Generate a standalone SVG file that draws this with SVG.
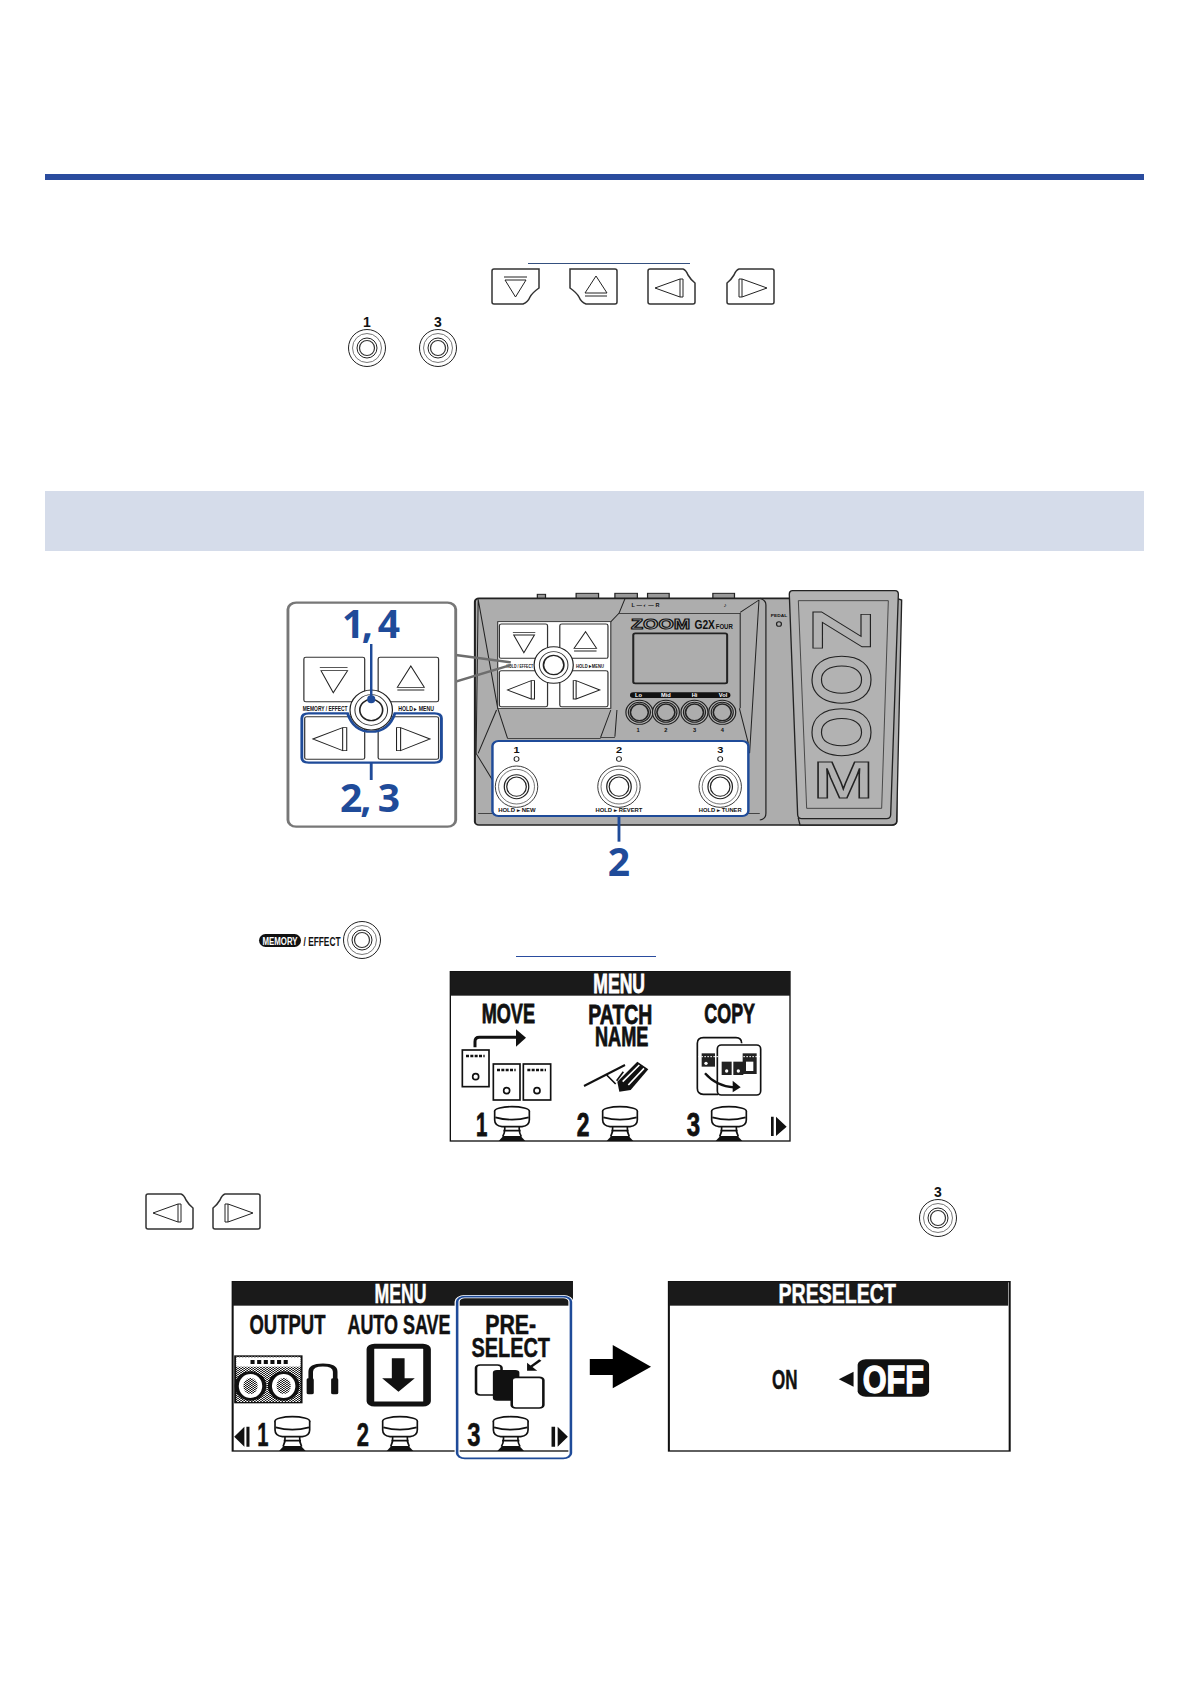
<svg xmlns="http://www.w3.org/2000/svg" width="1191" height="1684" viewBox="0 0 1191 1684">
<style>
.ln{fill:none;stroke:#222}
.btn{fill:#fff;stroke:#333;stroke-width:1.5}
.tr{fill:#fff;stroke:#222;stroke-width:1}
.blue{fill:none;stroke:#1f4b99}
.num{font-family:"Noto Sans","Open Sans",sans-serif;font-weight:700;fill:#1f4b99}
.lcd{font-family:"Liberation Sans Narrow","Liberation Sans",sans-serif;font-weight:700;fill:#111}
.sm{font-family:"Liberation Sans",sans-serif;font-weight:700;fill:#111}
</style>
<defs>
<g id="bd"><path class="btn" d="M2,0H47V19Q40,24 38,28Q36,33 31,35H2Q0,35 0,33V2Q0,0 2,0Z"/><path class="tr" d="M12,8H35M13,11H34L23.5,28Z"/></g>
<g id="bu"><path class="btn" d="M45,0H0V19Q7,24 9,28Q11,33 16,35H45Q47,35 47,33V2Q47,0 45,0Z"/><path class="tr" d="M15,24H37L26,7ZM15,27H37"/></g>
<g id="bl"><path class="btn" d="M2,0H35Q38,1 40,6Q43,11 47,14V33Q47,35 45,35H2Q0,35 0,33V2Q0,0 2,0Z"/><path class="tr" d="M7,19L32,10V28ZM32,10H35V28H32"/></g>
<g id="br"><path class="btn" d="M45,0H12Q9,1 7,6Q4,11 0,14V33Q0,35 2,35H45Q47,35 47,33V2Q47,0 45,0Z"/><path class="tr" d="M40,19L15,10V28ZM15,10H12V28H15"/></g>
<g id="sw"><circle r="18.5" fill="#fff" stroke="#222" stroke-width="1"/><circle r="14.5" fill="none" stroke="#555" stroke-width=".8"/><circle r="10" fill="none" stroke="#222" stroke-width="1"/><circle r="7.5" fill="none" stroke="#333" stroke-width="1.2"/></g>
<g id="ped"><ellipse cx="0" cy="453" rx="52" ry="13" fill="#fff" stroke="#111" stroke-width="5"/><path d="M-52,453V480Q-52,497 -30,500H30Q52,497 52,480V453" fill="#fff" stroke="#111" stroke-width="5"/><path d="M-50,472Q0,486 50,472" fill="none" stroke="#111" stroke-width="5"/><path d="M-22,500Q-20,515 -28,530M22,500Q20,515 28,530M-26,512H26" stroke="#111" stroke-width="5" fill="none"/><path d="M-40,543L-26,528H26L40,543Z" fill="#111"/></g>
<g id="dev-sw"><ellipse rx="52" ry="62" fill="#fff" stroke="#222" stroke-width="2.4"/><ellipse rx="44" ry="52" fill="none" stroke="#444" stroke-width="2"/><ellipse rx="30" ry="36" fill="none" stroke="#222" stroke-width="3"/><ellipse rx="24" ry="29" fill="none" stroke="#222" stroke-width="3"/></g>
<g id="dev-knob"><ellipse rx="33" ry="36" fill="#b8b8b8" stroke="#222" stroke-width="3"/><ellipse rx="27" ry="30" fill="none" stroke="#222" stroke-width="3"/><ellipse rx="22" ry="25" fill="#adadad" stroke="#222" stroke-width="4"/></g>
<pattern id="grille" width="6" height="6" patternUnits="userSpaceOnUse"><rect width="6" height="6" fill="#fff"/><rect width="3" height="3" fill="#111"/><rect x="3" y="3" width="3" height="3" fill="#111"/></pattern>
</defs>

<rect id="top-rule" x="45" y="174" width="1099" height="6" fill="#2a4c9e"/>
<rect id="heading-band" x="45" y="491" width="1099" height="60" fill="#d5dcea"/>

<g id="top-icons">
<line x1="528" y1="263.5" x2="690" y2="263.5" stroke="#34507f" stroke-width="1"/>
<use href="#bd" x="492" y="269"/><use href="#bu" x="570" y="269"/><use href="#bl" x="648" y="269"/><use href="#br" x="727" y="269"/>
<text class="sm" x="367" y="327" font-size="14" text-anchor="middle">1</text><use href="#sw" x="367" y="348"/>
<text class="sm" x="438" y="327" font-size="14" text-anchor="middle">3</text><use href="#sw" x="438" y="348"/>
</g>

<g id="device" transform="translate(270,580) scale(0.40816,0.33333)">
<g fill="#999" stroke="#222" stroke-width="3"><rect x="655" y="43" width="20" height="14"/><rect x="750" y="40" width="55" height="17"/><rect x="845" y="40" width="55" height="17"/><rect x="925" y="40" width="53" height="17"/><rect x="1085" y="40" width="53" height="17"/></g>
<rect x="502" y="55" width="1033" height="680" rx="10" fill="#adadad" stroke="#222" stroke-width="5"/>
<path class="ln" stroke-width="2.5" d="M510,58L558,385M510,58L505,520M558,385L582,475M555,390L510,520M835,390L810,472H845M855,100H1152V385M855,100L835,125M1198,60L1152,97M1198,60L1175,520M1150,385L1172,490M850,390L845,470M870,55L855,100M582,475H810M505,520L545,600M510,700H1200"/>
<path class="ln" stroke-width="3" d="M1200,55Q1215,60 1215,75V700Q1215,718 1200,720"/>
<rect x="558" y="125" width="277" height="260" fill="#fff" stroke="#222" stroke-width="2.5"/>
<g class="btn" style="stroke-width:3"><rect x="562" y="132" width="118" height="103" rx="5"/><rect x="710" y="132" width="118" height="103" rx="5"/><rect x="562" y="272" width="118" height="108" rx="5"/><rect x="710" y="272" width="118" height="108" rx="5"/></g>
<path class="tr" style="stroke-width:2.6" d="M595,157H650M597,165H648L622,218ZM773,155L745,205H800ZM745,213H800M582,330L640,302V357ZM640,302H648V357H640M808,330L750,302V357ZM750,302H743V357H750"/>
<text class="sm" x="612" y="264" font-size="17" text-anchor="middle" textLength="65" lengthAdjust="spacingAndGlyphs">HOLD / EFFECT</text>
<text class="sm" x="784" y="264" font-size="17" text-anchor="middle" textLength="68" lengthAdjust="spacingAndGlyphs">HOLD ▸ MENU</text>
<ellipse cx="695" cy="255" rx="48" ry="55" fill="#fff" stroke="#222" stroke-width="3"/>
<ellipse cx="695" cy="255" rx="35" ry="40" fill="none" stroke="#333" stroke-width="2.5"/>
<ellipse cx="695" cy="255" rx="25" ry="29" fill="#fff" stroke="#222" stroke-width="4"/>
<g id="wedge" stroke="#6d6d6d" stroke-width="7" fill="none"><path d="M455,225L590,247M455,305L590,255"/></g>
<text class="sm" x="920" y="82" font-size="14" text-anchor="middle" textLength="68" lengthAdjust="spacingAndGlyphs">L — ◐ — R</text>
<text class="sm" x="1115" y="82" font-size="16" text-anchor="middle">♪</text>
<text x="957" y="147" font-family="Liberation Sans,sans-serif" font-weight="700" font-size="42" text-anchor="middle" textLength="145" lengthAdjust="spacingAndGlyphs" fill="#adadad" stroke="#111" stroke-width="3">ZOOM</text>
<text class="sm" x="1065" y="147" font-size="38" text-anchor="middle" textLength="50" lengthAdjust="spacingAndGlyphs">G2X</text>
<text class="sm" x="1113" y="147" font-size="24" text-anchor="middle" textLength="42" lengthAdjust="spacingAndGlyphs">FOUR</text>
<rect x="890" y="160" width="230" height="150" rx="5" fill="#adadad" stroke="#222" stroke-width="5"/>
<rect x="882" y="337" width="246" height="17" rx="8" fill="#111"/>
<g class="sm" font-size="14" text-anchor="middle" style="fill:#fff"><text x="903" y="350">Lo</text><text x="970" y="350">Mid</text><text x="1040" y="350">Hi</text><text x="1110" y="350">Vol</text></g>
<use href="#dev-knob" x="905" y="397"/><use href="#dev-knob" x="970" y="397"/><use href="#dev-knob" x="1040" y="397"/><use href="#dev-knob" x="1108" y="397"/>
<g class="sm" font-size="14" text-anchor="middle"><text x="902" y="455">1</text><text x="970" y="455">2</text><text x="1040" y="455">3</text><text x="1108" y="455">4</text></g>
<text class="sm" x="1247" y="111" font-size="12" text-anchor="middle" textLength="40" lengthAdjust="spacingAndGlyphs">PEDAL</text>
<ellipse cx="1247" cy="132" rx="6" ry="7" fill="none" stroke="#222" stroke-width="3"/>
<rect x="545" y="483" width="627" height="225" rx="15" fill="#fff"/>
<g class="sm" font-size="27" text-anchor="middle"><text x="604" y="518" textLength="15" lengthAdjust="spacingAndGlyphs">1</text><text x="855" y="518" textLength="15" lengthAdjust="spacingAndGlyphs">2</text><text x="1103" y="518" textLength="15" lengthAdjust="spacingAndGlyphs">3</text></g>
<g fill="none" stroke="#222" stroke-width="2.5"><ellipse cx="604" cy="537" rx="6" ry="7"/><ellipse cx="855" cy="537" rx="6" ry="7"/><ellipse cx="1103" cy="537" rx="6" ry="7"/></g>
<use href="#dev-sw" x="604" y="620"/><use href="#dev-sw" x="855" y="620"/><use href="#dev-sw" x="1103" y="620"/>
<g class="sm" font-size="14" text-anchor="middle"><text x="605" y="697" textLength="92" lengthAdjust="spacingAndGlyphs">HOLD ▸ NEW</text><text x="855" y="697" textLength="115" lengthAdjust="spacingAndGlyphs">HOLD ▸ REVERT</text><text x="1103" y="697" textLength="105" lengthAdjust="spacingAndGlyphs">HOLD ▸ TUNER</text></g>
<rect class="blue" x="545" y="483" width="627" height="225" rx="15" stroke-width="6"/>
<line class="blue" x1="855" y1="708" x2="855" y2="785" stroke-width="7"/>
</g>

<g id="treadle" transform="translate(780,580) scale(0.33333)">
<path d="M350,55L365,60L350,725Q348,735 335,735H60L55,715Z" fill="#adadad" stroke="#222" stroke-width="4"/>
<path d="M38,32H345Q356,32 355,45L332,705Q331,716 320,716H65Q54,716 53,705L28,45Q27,32 38,32Z" fill="#b2b2b2" stroke="#222" stroke-width="4"/>
<path d="M55,62H325L305,685H80Z" fill="none" stroke="#333" stroke-width="2.5"/>
<g id="treadle-logo" font-family="Liberation Sans,sans-serif" font-weight="700" fill="#b2b2b2" stroke="#222" stroke-width="3.5" text-anchor="middle">
<text transform="translate(100,150) rotate(90)" font-size="251" textLength="120" lengthAdjust="spacingAndGlyphs">Z</text>
<text transform="translate(100,378) rotate(90)" font-size="251" textLength="315" lengthAdjust="spacingAndGlyphs">OO</text>
<text transform="translate(190,655)" font-size="155" textLength="180" lengthAdjust="spacingAndGlyphs">M</text>
</g>
</g>

<g id="callout" transform="translate(270,580) scale(0.40816,0.33333)">
<rect x="44" y="68" width="411" height="672" rx="20" fill="#fff" stroke="#777" stroke-width="7"/>
<g class="btn" style="stroke-width:3"><rect x="83" y="232" width="149" height="133" rx="5"/><rect x="265" y="232" width="148" height="133" rx="5"/><rect x="85" y="410" width="147" height="128" rx="5"/><rect x="265" y="410" width="148" height="128" rx="5"/></g>
<path class="tr" style="stroke-width:2.6" d="M122,262H190M125,272H190L155,338ZM345,258L312,322H378ZM312,330H378M105,477L178,443V512ZM178,443H188V512H178M392,477L320,443V512ZM320,443H310V512H320"/>
<text class="sm" x="135" y="392" font-size="19" text-anchor="middle" textLength="110" lengthAdjust="spacingAndGlyphs">MEMORY / EFFECT</text>
<text class="sm" x="358" y="392" font-size="19" text-anchor="middle" textLength="88" lengthAdjust="spacingAndGlyphs">HOLD ▸ MENU</text>
<path d="M95,400H190Q205,455 248,455Q291,455 306,400H403Q420,400 420,415V533Q420,548 403,548H95Q78,548 78,533V415Q78,400 95,400Z" class="blue" stroke-width="7"/>
<ellipse cx="248" cy="390" rx="52" ry="60" fill="#fff" stroke="#222" stroke-width="3"/>
<ellipse cx="248" cy="390" rx="40" ry="46" fill="none" stroke="#333" stroke-width="2.5"/>
<ellipse cx="248" cy="390" rx="28" ry="32" fill="#fff" stroke="#222" stroke-width="4"/>
<line class="blue" x1="248" y1="192" x2="248" y2="360" stroke-width="6"/>
<ellipse cx="248" cy="358" rx="10" ry="12" fill="#1f4b99"/>
<line class="blue" x1="248" y1="548" x2="248" y2="600" stroke-width="7"/>
</g>
<g id="step-numbers">
<text class="num" x="371" y="638" font-size="39" text-anchor="middle" textLength="58">1, 4</text>
<text class="num" x="370" y="812" font-size="39" text-anchor="middle" textLength="60">2, 3</text>
<text class="num" x="619" y="876" font-size="39" text-anchor="middle">2</text>
</g>

<g id="memory-button">
<rect x="259" y="934" width="42" height="13" rx="6.5" fill="#111"/>
<text class="lcd" x="280" y="945" font-size="11.5" text-anchor="middle" textLength="35" lengthAdjust="spacingAndGlyphs" style="fill:#fff">MEMORY</text>
<text class="lcd" x="322" y="946" font-size="12.5" text-anchor="middle" textLength="37" lengthAdjust="spacingAndGlyphs">/ EFFECT</text>
<use href="#sw" x="362" y="940"/>
</g>
<line id="link-rule" x1="516" y1="956.5" x2="656" y2="956.5" stroke="#2a4c9e" stroke-width="1"/>

<g id="menu-screen-1" transform="translate(440,960) scale(0.33333)">
<rect x="31" y="35" width="1019" height="508" fill="#fff" stroke="#111" stroke-width="4"/>
<rect x="31" y="35" width="1019" height="72" fill="#1a1a1a"/>
<g class="lcd" font-size="84" stroke="#111" stroke-width="2.5">
<text x="460" y="100" textLength="155" lengthAdjust="spacingAndGlyphs" style="fill:#fff" stroke="#fff">MENU</text>
<text x="125" y="190" textLength="160" lengthAdjust="spacingAndGlyphs">MOVE</text>
<text x="445" y="193" textLength="192" lengthAdjust="spacingAndGlyphs">PATCH</text>
<text x="465" y="259" textLength="160" lengthAdjust="spacingAndGlyphs">NAME</text>
<text x="793" y="190" textLength="152" lengthAdjust="spacingAndGlyphs">COPY</text>
</g>
<path d="M105,262V245Q105,232 118,232H232" fill="none" stroke="#111" stroke-width="9"/><path d="M228,208L258,233L228,260Z" fill="#111"/>
<g fill="#fff" stroke="#111" stroke-width="5"><rect x="67" y="270" width="80" height="110"/><rect x="160" y="312" width="80" height="108"/><rect x="250" y="312" width="82" height="108"/><circle cx="107" cy="350" r="9"/><circle cx="200" cy="392" r="9"/><circle cx="291" cy="392" r="9"/></g>
<path stroke="#111" stroke-width="8" stroke-dasharray="9 4" d="M78,288H134M171,330H227M262,330H318"/>
<path d="M432,378L555,315" stroke="#111" stroke-width="6"/><path d="M500,345L527,372M530,362L550,335" stroke="#111" stroke-width="5"/>
<path d="M532,365L592,305L625,328L572,390L538,395Z" fill="#111"/><path d="M548,365L598,315M565,375L612,325" stroke="#fff" stroke-width="5"/>
<path d="M905,250Q905,233 888,233H790Q772,233 772,250V385Q772,403 790,403H835" fill="none" stroke="#111" stroke-width="5"/>
<rect x="832" y="255" width="130" height="150" rx="12" fill="#fff" stroke="#111" stroke-width="5"/>
<g fill="#222"><rect x="785" y="280" width="40" height="40"/><rect x="845" y="305" width="30" height="40"/><rect x="880" y="305" width="30" height="40"/><rect x="908" y="280" width="42" height="62"/></g>
<rect x="918" y="305" width="22" height="28" fill="#fff"/>
<g fill="#fff"><circle cx="798" cy="310" r="5"/><circle cx="860" cy="333" r="5"/><circle cx="895" cy="333" r="5"/></g>
<path d="M775,290H960" stroke="#fff" stroke-width="3" stroke-dasharray="5 4"/>
<path d="M795,340Q830,380 882,382" fill="none" stroke="#111" stroke-width="7"/><path d="M878,362L902,382L878,397Z" fill="#111"/>
<g class="lcd" font-size="98" stroke="#111" stroke-width="2.5"><text x="108" y="528" textLength="34" lengthAdjust="spacingAndGlyphs">1</text><text x="410" y="528" textLength="38" lengthAdjust="spacingAndGlyphs">2</text><text x="740" y="528" textLength="40" lengthAdjust="spacingAndGlyphs">3</text></g>
<use href="#ped" x="216"/><use href="#ped" x="540"/><use href="#ped" x="867"/>
<path d="M993,470H1001V528H993ZM1008,470L1040,500L1008,528Z" fill="#111"/>
</g>

<g id="step-3-icons">
<use href="#bl" x="146" y="1194"/><use href="#br" x="213" y="1194"/>
<text class="sm" x="938" y="1197" font-size="14" text-anchor="middle">3</text><use href="#sw" x="938" y="1218"/>
</g>

<g id="menu-screen-2" transform="translate(225,1270) scale(0.5102,0.33333)">
<rect x="15" y="35" width="665" height="508" fill="#fff" stroke="#111" stroke-width="4"/>
<rect x="15" y="35" width="665" height="72" fill="#1a1a1a"/>
<g class="lcd" font-size="84" stroke="#111" stroke-width="1.5">
<text x="293" y="100" textLength="102" lengthAdjust="spacingAndGlyphs" style="fill:#fff" stroke="#fff">MENU</text>
<text x="48" y="193" textLength="149" lengthAdjust="spacingAndGlyphs">OUTPUT</text>
<text x="240" y="193" textLength="202" lengthAdjust="spacingAndGlyphs">AUTO SAVE</text>
<text x="510" y="193" textLength="100" lengthAdjust="spacingAndGlyphs">PRE-</text>
<text x="483" y="262" textLength="154" lengthAdjust="spacingAndGlyphs">SELECT</text>
</g>
<rect x="20" y="258" width="130" height="140" fill="url(#grille)" stroke="#111" stroke-width="4"/>
<rect x="22" y="262" width="126" height="28" fill="#fff"/><path d="M50,276H125" stroke="#111" stroke-width="12" stroke-dasharray="8 5"/>
<g fill="#fff" stroke="#111" stroke-width="8"><ellipse cx="50" cy="348" rx="27" ry="40"/><ellipse cx="115" cy="348" rx="27" ry="40"/></g>
<g fill="url(#grille)"><ellipse cx="50" cy="348" rx="14" ry="24"/><ellipse cx="115" cy="348" rx="14" ry="24"/></g>
<path d="M168,370V305Q168,285 192,285Q216,285 216,305V370" fill="none" stroke="#111" stroke-width="9"/>
<rect x="160" y="325" width="14" height="48" rx="4" fill="#111"/><rect x="208" y="325" width="14" height="48" rx="4" fill="#111"/>
<rect x="285" y="229" width="111" height="173" rx="8" fill="#fff" stroke="#111" stroke-width="15"/>
<path d="M327,265H352V325H372L340,365L308,325H327Z" fill="#111"/>
<rect x="492" y="285" width="50" height="90" rx="8" fill="#fff" stroke="#111" stroke-width="5"/>
<rect x="525" y="300" width="52" height="92" rx="8" fill="#111"/>
<rect x="562" y="322" width="62" height="92" rx="8" fill="#fff" stroke="#111" stroke-width="5"/>
<path d="M618,270L600,290" stroke="#111" stroke-width="6"/><path d="M592,278L612,302L592,302Z" fill="#111"/>
<g class="lcd" font-size="98" stroke="#111" stroke-width="1.5"><text x="63" y="528" textLength="22" lengthAdjust="spacingAndGlyphs">1</text><text x="258" y="528" textLength="24" lengthAdjust="spacingAndGlyphs">2</text><text x="475" y="528" textLength="26" lengthAdjust="spacingAndGlyphs">3</text></g>
<g transform="translate(132,0) scale(.653,1)"><use href="#ped"/></g>
<g transform="translate(343,0) scale(.653,1)"><use href="#ped"/></g>
<g transform="translate(560,0) scale(.653,1)"><use href="#ped"/></g>
<path d="M38,470L18,500L38,530ZM42,470H48V530H42ZM640,470H647V530H640ZM652,470L672,500L652,530Z" fill="#111"/>
<rect x="455" y="80" width="223" height="485" rx="15" fill="none" stroke="#fff" stroke-width="10"/>
<rect class="blue" x="455" y="80" width="223" height="485" rx="15" stroke-width="5"/>
</g>

<path id="flow-arrow" transform="translate(225,1270) scale(0.5102,0.33333)" d="M715,267H760V225L835,290L760,355V315H715Z" fill="#000"/>

<g id="preselect-screen" transform="translate(225,1270) scale(0.5102,0.33333)">
<rect x="870" y="35" width="668" height="508" fill="#fff" stroke="#111" stroke-width="4"/>
<rect x="870" y="35" width="665" height="72" fill="#1a1a1a"/>
<g class="lcd" font-size="84" stroke="#111" stroke-width="1.5">
<text x="1085" y="100" textLength="230" lengthAdjust="spacingAndGlyphs" style="fill:#fff" stroke="#fff">PRESELECT</text>
<text x="1072" y="357" textLength="50" lengthAdjust="spacingAndGlyphs">ON</text>
</g>
<path d="M1203,328L1232,305V350Z" fill="#111"/>
<rect x="1240" y="268" width="140" height="112" rx="16" fill="#111"/>
<text class="lcd" x="1250" y="368" font-size="118" textLength="120" lengthAdjust="spacingAndGlyphs" style="fill:#fff" stroke="#fff" stroke-width="4">OFF</text>
</g>
</svg>
